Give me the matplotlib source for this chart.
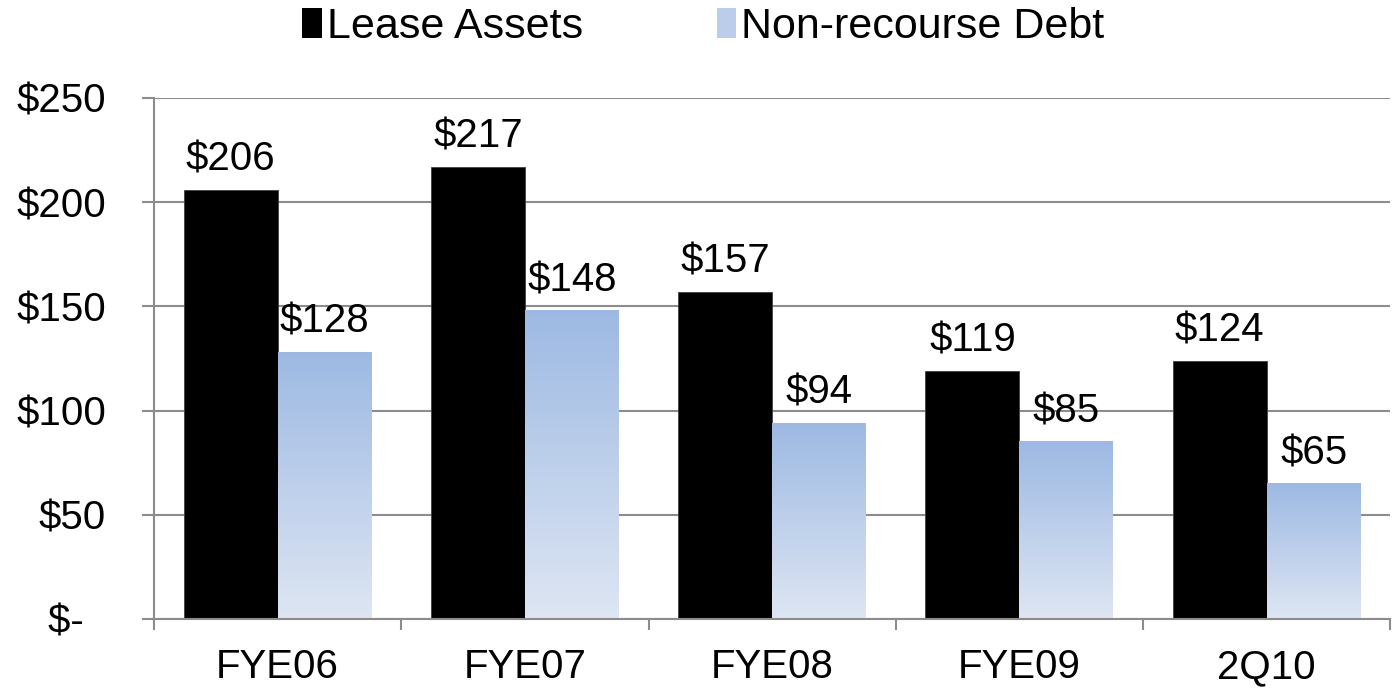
"""Lease assets vs non-recourse debt bar chart."""
import matplotlib

matplotlib.use("Agg")
import matplotlib.pyplot as plt
import numpy as np
from matplotlib.colors import LinearSegmentedColormap
from matplotlib.patches import Patch

# ------------------ DATA ------------------ #
CATEGORIES = ["FYE06", "FYE07", "FYE08", "FYE09", "2Q10"]
LEASE_ASSETS = [206, 217, 157, 119, 124]
NON_RECOURSE_DEBT = [128, 148, 94, 85, 65]
Y_TICKS = [0, 50, 100, 150, 200, 250]
Y_TICK_LABELS = ["$-  ", "$50", "$100", "$150", "$200", "$250"]
SERIES_NAMES = ["Lease Assets", "Non-recourse Debt"]
# ---------------- END DATA ---------------- #

GRID = "#8c8c8c"
BLUE_TOP = "#9db9e3"
BLUE_BOTTOM = "#dee6f3"
BAR_W = 0.38
FS = 29

plt.rcParams["font.family"] = ["Liberation Sans", "DejaVu Sans"]

fig = plt.figure(figsize=(13.93, 6.95), dpi=100)
ax = fig.add_axes([0.1106, 0.1094, 0.8874, 0.7496])

x = np.arange(len(CATEGORIES))
ax.bar(x, LEASE_ASSETS, width=-BAR_W, align="edge", color="black",
       edgecolor="#404040", linewidth=0.6, zorder=3)

# blue bars with a vertical gradient (light at the bottom)
cmap = LinearSegmentedColormap.from_list("blu", [BLUE_BOTTOM, BLUE_TOP])
grad = np.linspace(0, 1, 256).reshape(-1, 1)
for xi, v in zip(x, NON_RECOURSE_DEBT):
    ax.imshow(grad, cmap=cmap, origin="lower", aspect="auto",
              extent=[xi, xi + BAR_W, 0, v], zorder=3, interpolation="bilinear")

# value labels
for xi, v in zip(x, LEASE_ASSETS):
    ax.annotate(f"${v}", (xi - BAR_W / 2, v), xytext=(0, 14),
                textcoords="offset points", ha="center", va="baseline",
                fontsize=FS, zorder=4)
for xi, v in zip(x, NON_RECOURSE_DEBT):
    ax.annotate(f"${v}", (xi + BAR_W / 2, v), xytext=(0, 14),
                textcoords="offset points", ha="center", va="baseline",
                fontsize=FS, zorder=4)

ax.set_xlim(-0.5, len(CATEGORIES) - 0.5)
ax.set_ylim(0, 250)

ax.set_yticks(Y_TICKS)
ax.set_yticklabels(Y_TICK_LABELS)
ax.yaxis.grid(True, color=GRID, linewidth=1.5, zorder=0)
ax.set_axisbelow(True)

ax.set_xticks(x)
ax.set_xticklabels(CATEGORIES)
ax.set_xticks(np.arange(-0.5, len(CATEGORIES)), minor=True)
ax.tick_params(axis="x", which="major", length=0, pad=21, labelsize=FS)
ax.tick_params(axis="x", which="minor", length=8, width=1.5, color=GRID,
               direction="out")
ax.tick_params(axis="y", length=8.6, width=1.5, color=GRID, pad=26,
               labelsize=FS, direction="out")

for side in ["top", "right"]:
    ax.spines[side].set_visible(False)
for side in ["left", "bottom"]:
    ax.spines[side].set_color(GRID)
    ax.spines[side].set_linewidth(1.5)
    ax.spines[side].set_zorder(5)

handles = [Patch(facecolor="black"), Patch(facecolor="#bccdeb")]
fig.legend(handles, SERIES_NAMES, loc="upper center",
           bbox_to_anchor=(0.505, 1.045), ncol=2, frameon=False, fontsize=31,
           handlelength=0.45, handleheight=0.7, handletextpad=0.12,
           columnspacing=3.1)

fig.savefig("out.png", dpi=100)
